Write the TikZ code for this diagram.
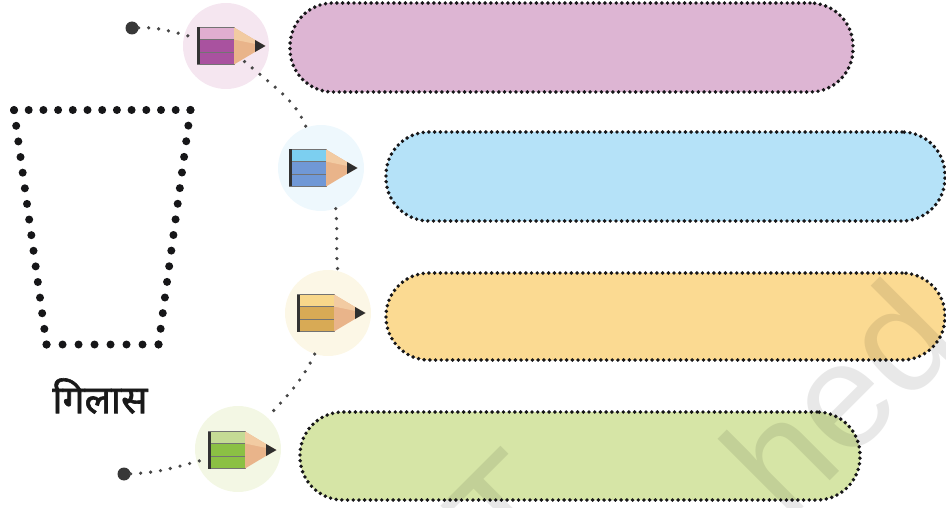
\documentclass[tikz,border=0pt]{standalone}
\usepackage{fontspec}
\newfontfamily\hindifont[Script=Devanagari,FakeBold=1.6]{Noto Sans}
\newfontfamily\markfont{Liberation Sans}
\usetikzlibrary{positioning}

\definecolor{inkdot}{HTML}{161618}
\definecolor{tanlight}{HTML}{F2CBA2}
\definecolor{tandark}{HTML}{E9B48A}
\definecolor{purplefill}{HTML}{DDB5D3}
\definecolor{bluefill}{HTML}{B5E2F8}
\definecolor{yellowfill}{HTML}{FBDA92}
\definecolor{greenfill}{HTML}{D6E5A6}
\definecolor{purplehaze}{HTML}{F5E6F0}
\definecolor{bluehaze}{HTML}{EEF8FD}
\definecolor{yellowhaze}{HTML}{FCF7E6}
\definecolor{greenhaze}{HTML}{F3F7E4}
\definecolor{purplelite}{HTML}{E0AED0}
\definecolor{purpledark}{HTML}{A9529F}
\definecolor{bluelite}{HTML}{7CCFF0}
\definecolor{bluedark}{HTML}{7098D6}
\definecolor{yellowlite}{HTML}{F8D78A}
\definecolor{yellowdark}{HTML}{D8AA55}
\definecolor{greenlite}{HTML}{C5DB95}
\definecolor{greendark}{HTML}{8BC044}
\tikzset{
  halo/.style={circle,minimum size=86pt,inner sep=0pt,fill=#1},
  pill/.style={rectangle,draw=inkdot,fill=#1,rounded corners=43pt,inner sep=0pt,
    line width=3.9pt,line cap=round,dash pattern=on 0pt off 5.7pt},
  enddot/.style={circle,minimum size=13pt,inner sep=0pt,fill=black!78},
  thread/.style={draw=black!72,line width=3.6pt,line cap=round,dash pattern=on 0pt off 10pt},
  rim/.style={draw=inkdot,line width=8pt,line cap=round},
  stamp/.style={font=\markfont\fontsize{150}{150}\selectfont,text=black,text opacity=.09,
    rotate=45,inner sep=0pt},
  pics/pencil/.style n args={2}{code={
    \fill[#2] (0,-18.5) rectangle (37,18.5);
    \fill[#1] (0,6.5) rectangle (37,18.5);
    \draw[black!55,line width=.7pt] (0,-18.5) rectangle (37,18.5);
    \draw[black!55,line width=.7pt] (0,6.5) -- (37,6.5);
    \draw[black!55,line width=.7pt] (0,-6.5) -- (37,-6.5);
    \fill[black!80] (0,-18.5) rectangle (2.5,18.5);
    \fill[tandark] (37,18.5) -- (68,0) -- (37,-18.5) -- cycle;
    \fill[tanlight] (37,18.5) -- (68,0) -- (37,6.5) -- cycle;
    \fill[black!82] (58,6) -- (68.5,0) -- (58,-6) -- cycle;
  }}
}

\begin{document}
\begin{tikzpicture}[x=1pt,y=1pt]
      \useasboundingbox (0,0) rectangle (946,-508);
      \clip (0,0) rectangle (946,-508);

      \node[halo=purplehaze] (purplehalo) at (226,-46) {};
      \node[halo=bluehaze] (bluehalo) at (321,-168) {};
      \node[halo=yellowhaze] (yellowhalo) at (328,-313) {};
      \node[halo=greenhaze] (greenhalo) at (238,-449) {};

      \node[pill=purplefill,minimum width=563pt,minimum height=89pt] (purplebox) at (571.5,-47.5) {};
      \node[pill=bluefill,minimum width=559pt,minimum height=89pt] (bluebox) at (665.5,-176.5) {};
      \node[pill=yellowfill,minimum width=559pt,minimum height=87pt] (yellowbox) at (665.5,-316.5) {};
      \node[pill=greenfill,minimum width=560pt,minimum height=88pt] (greenbox) at (580,-456) {};

      \node[stamp] (stampone) at (507,-513) {T};
      \node[stamp] (stamptwo) at (838,-397) {hed};

      \pic at (197,-46) {pencil={purplelite}{purpledark}};
      \pic at (289,-168) {pencil={bluelite}{bluedark}};
      \pic at (297,-313) {pencil={yellowlite}{yellowdark}};
      \pic at (208,-450) {pencil={greenlite}{greendark}};

      \node[enddot] (topdot) at (132,-28) {};
      \node[enddot] (bottomdot) at (124,-474) {};

      \draw[thread,shorten >=-7pt] (topdot) to[out=2,in=165] (purplehalo.165);
      \draw[thread,shorten <=-19pt] (purplehalo.-40) to[out=-40,in=112] (bluehalo.110);
      \draw[thread] (bluehalo.-70) to[out=-85,in=95] (yellowhalo.77);
      \draw[thread] (yellowhalo.-108) to[out=-115,in=48] (greenhalo.47);
      \draw[thread,shorten >=-4pt] (bottomdot) to[out=2,in=195] (greenhalo.197);

      \coordinate (rimleft) at (14,-110);
      \coordinate (rimright) at (190.5,-110);
      \coordinate (baseright) at (158.5,-344.5);
      \coordinate (baseleft) at (46.5,-344.5);
      \draw[rim,dash pattern=on 0pt off 14.7pt] (rimleft) -- (rimright);
      \draw[rim,dash pattern=on 0pt off 15.77pt] (rimright) -- (baseright);
      \draw[rim,dash pattern=on 0pt off 15.99pt] (baseright) -- (baseleft);
      \draw[rim,dash pattern=on 0pt off 15.77pt] (baseleft) -- (rimleft);

      \node[font=\hindifont\fontsize{39}{42}\selectfont,text=black!90] (glass) at (100,-396) {गिलास};
    \end{tikzpicture}
\end{document}
